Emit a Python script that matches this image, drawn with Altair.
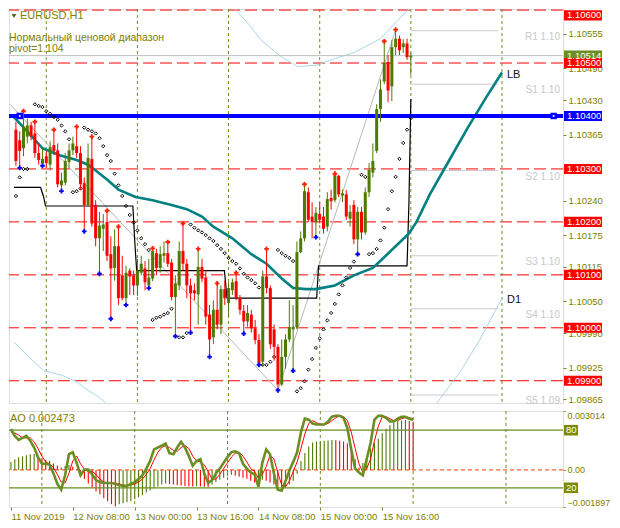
import altair as alt
import pandas as pd

# ---------------- chart data ----------------
N = 105
bar_idx = list(range(N))
opens = [
1.10374,1.10354,1.10339,1.10361,1.10382,1.10367,1.10330,1.10310,1.10324,1.10308,
1.10345,1.10335,1.10269,1.10274,1.10313,1.10335,1.10343,1.10330,1.10273,1.10232,
1.10319,1.10232,1.10169,1.10187,1.10200,1.10139,1.10113,1.10154,1.10099,1.10056,
1.10108,1.10099,1.10080,1.10104,1.10112,1.10080,1.10093,1.10141,1.10113,1.10136,
1.10141,1.10123,1.10058,1.10080,1.10145,1.10121,1.10080,1.10071,1.10063,1.10115,
1.10095,1.10025,1.09982,1.10034,1.10006,1.10073,1.10047,1.10071,1.10088,1.10056,
1.10032,1.10012,1.10025,1.09999,1.09977,1.09936,1.10097,1.10075,1.09997,1.09964,
1.09893,1.09945,1.09978,1.09997,1.10001,1.10143,1.10169,1.10256,1.10210,1.10199,
1.10215,1.10210,1.10191,1.10245,1.10241,1.10287,1.10250,1.10252,1.10206,1.10232,
1.10167,1.10219,1.10180,1.10256,1.10293,1.10334,1.10413,1.10465,1.10502,1.10456,
1.10530,1.10546,1.10530,1.10537,1.10511]
highs = [
1.10389,1.10371,1.10409,1.10395,1.10389,1.10389,1.10348,1.10339,1.10334,1.10352,
1.10374,1.10348,1.10293,1.10330,1.10348,1.10361,1.10380,1.10343,1.10284,1.10348,
1.10361,1.10241,1.10219,1.10215,1.10221,1.10173,1.10186,1.10191,1.10136,1.10117,
1.10112,1.10108,1.10130,1.10136,1.10126,1.10130,1.10150,1.10149,1.10154,1.10163,
1.10162,1.10130,1.10099,1.10163,1.10197,1.10130,1.10093,1.10084,1.10149,1.10130,
1.10108,1.10043,1.10052,1.10084,1.10080,1.10089,1.10086,1.10093,1.10104,1.10062,
1.10043,1.10043,1.10034,1.10015,1.09988,1.10108,1.10149,1.10080,1.10006,1.09969,
1.09978,1.09988,1.10052,1.10043,1.10163,1.10182,1.10271,1.10265,1.10237,1.10228,
1.10237,1.10228,1.10256,1.10261,1.10291,1.10289,1.10261,1.10260,1.10232,1.10241,
1.10228,1.10228,1.10265,1.10311,1.10348,1.10422,1.10469,1.10541,1.10515,1.10543,
1.10563,1.10552,1.10545,1.10546,1.10519]
lows = [
1.10306,1.10302,1.10324,1.10348,1.10354,1.10321,1.10308,1.10306,1.10302,1.10297,
1.10326,1.10265,1.10258,1.10269,1.10302,1.10326,1.10321,1.10260,1.10182,1.10228,
1.10191,1.10154,1.10102,1.10145,1.10126,1.10017,1.10089,1.10043,1.10052,1.10043,
1.10062,1.10062,1.10060,1.10099,1.10071,1.10075,1.10088,1.10099,1.10104,1.10123,
1.10115,1.10052,1.09984,1.10071,1.10108,1.10056,1.09991,1.10052,1.10006,1.10086,
1.10006,1.09945,1.09969,1.09997,1.09988,1.10043,1.10021,1.10062,1.10052,1.10025,
1.09989,1.10002,1.09991,1.09969,1.09930,1.09928,1.10065,1.09960,1.09938,1.09882,
1.09890,1.09923,1.09973,1.09919,1.09997,1.10141,1.10163,1.10200,1.10169,1.10171,
1.10197,1.10178,1.10182,1.10223,1.10237,1.10247,1.10237,1.10204,1.10191,1.10158,
1.10139,1.10167,1.10176,1.10247,1.10284,1.10330,1.10389,1.10460,1.10426,1.10428,
1.10515,1.10515,1.10519,1.10506,1.10478]
closes = [
1.10315,1.10334,1.10380,1.10382,1.10361,1.10330,1.10317,1.10319,1.10311,1.10341,
1.10334,1.10271,1.10278,1.10315,1.10335,1.10348,1.10330,1.10271,1.10232,1.10321,
1.10197,1.10169,1.10193,1.10195,1.10136,1.10112,1.10154,1.10056,1.10056,1.10104,
1.10097,1.10080,1.10108,1.10121,1.10086,1.10095,1.10145,1.10113,1.10139,1.10141,
1.10121,1.10058,1.10084,1.10145,1.10121,1.10080,1.10065,1.10065,1.10115,1.10093,
1.10021,1.09978,1.10034,1.10006,1.10073,1.10056,1.10075,1.10086,1.10056,1.10034,
1.10012,1.10028,1.09999,1.09977,1.09932,1.10097,1.10075,1.09969,1.09964,1.09893,
1.09945,1.09978,1.10001,1.10002,1.10143,1.10169,1.10258,1.10204,1.10200,1.10217,
1.10204,1.10187,1.10243,1.10239,1.10289,1.10252,1.10254,1.10210,1.10219,1.10167,
1.10219,1.10180,1.10256,1.10298,1.10315,1.10413,1.10450,1.10500,1.10448,1.10530,
1.10546,1.10524,1.10537,1.10511,1.10514]

# parabolic SAR (None = no dot)
sar = [
1.10249,1.10284,1.10300,1.10300,None,1.10422,1.10419,1.10417,1.10409,1.10404,
1.10398,1.10393,1.10382,1.10371,1.10356,1.10256,1.10258,1.10263,1.10378,1.10374,
1.10371,1.10367,1.10358,1.10343,1.10326,1.10315,1.10291,1.10269,1.10249,1.10230,
1.10213,1.10199,1.10184,1.10169,1.10158,1.10147,1.10015,1.10019,1.10021,1.10025,
1.10028,1.10036,None,1.09982,1.09982,1.09990,1.10195,1.10189,1.10184,1.10180,
1.10175,1.10169,1.10164,1.10156,1.10149,1.10141,1.10132,1.10126,1.10121,1.10112,
1.10102,1.10095,1.10090,1.10084,1.10076,1.09930,1.09930,1.09936,1.09945,1.10147,
1.10141,1.10136,1.10132,1.10126,1.09880,1.09886,1.09899,1.09921,1.09941,1.09962,
1.09980,1.09997,1.10014,1.10028,1.10045,1.10063,1.10080,1.10095,1.10113,1.10125,
None,1.10289,1.10285,1.10139,1.10141,1.10149,1.10165,1.10189,1.10224,1.10258,
1.10285,1.10319,1.10349,1.10374,1.10396]

fractal_up = [2,5,10,16,20,24,27,36,40,44,48,53,58,66,76,84,97,100]
fractal_dn = [1,7,12,18,22,25,29,35,42,46,51,60,64,69,73,79,90]

ma_idx = [-0.5,4,7,11.5,16,19,21,24,27,31.5,36,41,45,49,52,57,62,66,70,73,76.5,79,84,89,94,96.5,100,103.5,105.5,109,114,119,124,128]
ma_val = [1.10398,1.10363,1.10339,1.10326,1.10317,1.10308,1.10297,1.10280,1.10261,1.10247,1.10241,1.10232,1.10224,1.10210,1.10191,1.10169,1.10139,1.10121,1.10093,1.10075,1.10073,1.10073,1.10080,1.10099,1.10113,1.10130,1.10154,1.10178,1.10200,1.10252,1.10315,1.10378,1.10437,1.10482]

step_idx = [-0.5,6.5,7.3,7.8,30.8,31.3,31.8,54.9,55.6,79.2,79.7,103,103.5,104]
step_val = [1.10265,1.10265,1.10247,1.10230,1.10230,1.10163,1.10108,1.10108,1.10056,1.10056,1.10117,1.10117,1.10237,1.10432]

low_band_idx = [-0.5,4,7.3,12.3,15.8,19,21.5,26.6,60,100,110,116.8,121.8,128]
low_band_val = [1.09973,1.09941,1.09919,1.09910,1.09899,1.09882,1.09871,1.09840,1.09780,1.09790,1.09850,1.09915,1.09973,1.10056]
up_band_idx = [52,57.9,61.7,64.2,69.2,74.2,79.2,84.2,89.2,96,100.5,103.5,106]
up_band_val = [1.10640,1.10600,1.10570,1.10546,1.10515,1.10493,1.10496,1.10509,1.10520,1.10546,1.10580,1.10602,1.10630]

zz_idx = [-1.5, 69, 100]
zz_val = [1.10422, 1.09882, 1.10563]

round_levels = [1.10600, 1.10500, 1.10300, 1.10200, 1.10100, 1.10000, 1.09900]
blue_level = 1.10400
bid = 1.10514
pivot_names = ["R1 1.10", "S1 1.10", "S2 1.10", "S3 1.10", "S4 1.10", "S5 1.09"]
pivot_vals = [1.10561, 1.10460, 1.10297, 1.10136, 1.10036, 1.09873]
price_ticks = [1.10555, 1.10490, 1.10430, 1.10365, 1.10240, 1.10175, 1.10115, 1.10050, 1.09990, 1.09925, 1.09865]
box_prices = [1.10514, 1.10400, 1.10600, 1.10500, 1.10300, 1.10200, 1.10100, 1.10000, 1.09900]
box_texts = ["1.10514", "1.10400", "1.10600", "1.10500", "1.10300", "1.10200", "1.10100", "1.10000", "1.09900"]
box_fills = ["#6b8e23", "#0000ff", "#ff0000", "#ff0000", "#ff0000", "#ff0000", "#ff0000", "#ff0000", "#ff0000"]

day_lines = [8, 32, 56, 80, 104, 128]
tick_idx = [0, 16, 32, 48, 64, 80, 96]
time_labels = ["11 Nov 2019", "12 Nov 08:00", "13 Nov 00:00", "13 Nov 16:00", "14 Nov 08:00", "15 Nov 00:00", "15 Nov 16:00"]

ao = [0.00040,0.00055,0.00065,0.00070,0.00075,0.00080,0.00082,0.00070,0.00060,0.00052,
0.00045,0.00033,0.00023,0.00012,0.00020,0.00025,0.00017,0.00005,-0.00030,-0.00045,
-0.00070,-0.00090,-0.00110,-0.00125,-0.00145,-0.00160,-0.00175,-0.00187,-0.00175,-0.00170,
-0.00165,-0.00160,-0.00150,-0.00140,-0.00130,-0.00115,-0.00105,-0.00095,-0.00085,-0.00075,
-0.00070,-0.00072,-0.00075,-0.00078,-0.00080,-0.00082,-0.00084,-0.00085,-0.00083,-0.00084,
-0.00086,-0.00088,-0.00075,-0.00062,-0.00050,-0.00040,-0.00030,-0.00025,-0.00030,-0.00035,
-0.00040,-0.00045,-0.00055,-0.00065,-0.00060,-0.00050,-0.00055,-0.00065,-0.00075,-0.00085,
-0.00088,-0.00086,-0.00075,-0.00055,-0.00020,0.00045,0.00087,0.00120,0.00140,0.00145,
0.00147,0.00149,0.00151,0.00153,0.00152,0.00149,0.00145,0.00137,0.00105,0.00055,
0.00012,0.00035,0.00070,0.00110,0.00137,0.00160,0.00187,0.00210,0.00228,0.00240,
0.00250,0.00253,0.00255,0.00250,0.002473]
stoch_k = [81,74,70,72,74,69,62,52,45,45,
44,35,24,18,33,55,57,46,33,39,
39,34,28,26,25,25,25,24,23,22,
22,24,26,29,33,40,48,60,62,64,
66,56,55,62,68,62,53,43,48,50,
35,25,28,35,40,46,52,57,58,56,
45,40,36,34,21,46,60,55,35,18,
17,27,38,47,57,78,92,91,87,86,
86,86,89,94,95,95,93,82,60,40,
36,33,50,67,91,95,95,93,89,89,
92,94,94,92,91]
stoch_d = [78,77,75,72,72,72,68,61,53,47,
45,41,34,26,25,35,48,53,45,39,
37,37,34,29,26,25,25,25,24,23,
22,23,24,26,29,34,40,49,57,62,
64,62,59,58,62,64,61,53,48,47,
44,37,29,29,34,40,46,52,56,57,
53,47,40,37,30,34,42,54,50,36,
23,21,27,37,47,61,76,87,90,88,
86,86,87,90,93,95,94,90,78,61,
45,36,40,50,69,84,94,94,92,90,
90,92,93,93,92]
stoch_levels = [80, 20]
ao_ticks = [0.003014, 0.0, -0.001897]

# ---------------- styling ----------------
W, H1, H2 = 554, 394, 96
GREEN = "#4e7a00"
RED = "#ff0000"
OLIVE = "#6b8e23"
TXT = "#808000"
FONT = "Liberation Sans"

xs = alt.Scale(domain=[-0.5, 142.75], nice=False, zero=False)
ys = alt.Scale(domain=[1.09858, 1.10602], nice=False, zero=False)

def X(f="i"):
    return alt.X(f"{f}:Q", scale=xs, axis=None)

def Y(f):
    return alt.Y(f"{f}:Q", scale=ys, axis=None)

candles = pd.DataFrame({"i": bar_idx, "o": opens, "h": highs, "l": lows, "c": closes})
candles["dir"] = ["up" if c > o else "dn" for o, c in zip(opens, closes)]
ccol = alt.Color("dir:N", scale=alt.Scale(domain=["up", "dn"], range=[GREEN, RED]), legend=None)

# ---------------- main panel ----------------
yaxis = alt.Axis(orient="right", values=price_ticks, format=".5f", title=None, grid=False,
                 labelColor=TXT, labelFont=FONT, labelFontSize=9.5, tickColor=OLIVE,
                 tickSize=3, domain=False, labelPadding=2)

levels = alt.Chart(pd.DataFrame({"p": round_levels})).mark_rule(
    color=RED, strokeDash=[12, 5], strokeWidth=1, clip=True
).encode(y=alt.Y("p:Q", scale=ys, axis=yaxis))

vgrid = alt.Chart(pd.DataFrame({"i": day_lines})).mark_rule(
    color=OLIVE, strokeDash=[3, 3], strokeWidth=1, clip=True
).encode(x=X())

bands = pd.concat([
    pd.DataFrame({"i": low_band_idx, "p": low_band_val, "b": "low"}),
    pd.DataFrame({"i": up_band_idx, "p": up_band_val, "b": "up"}),
])
band_lines = alt.Chart(bands).mark_line(color="#a8d8e8", strokeWidth=1, clip=True).encode(
    x=X(), y=Y("p"), detail="b:N")

zigzag = alt.Chart(pd.DataFrame({"i": zz_idx, "p": zz_val})).mark_line(
    color="#b8b8b8", strokeWidth=1, clip=True).encode(x=X(), y=Y("p"))

bid_line = alt.Chart(pd.DataFrame({"p": [bid]})).mark_rule(
    color="#c0c0c0", strokeWidth=1, clip=True).encode(y=Y("p"))

piv = pd.DataFrame({"p": pivot_vals, "name": pivot_names, "i0": 104, "i1": 127})
piv_lines = alt.Chart(piv).mark_rule(color="#cccccc", strokeWidth=1, clip=True).encode(
    x=X("i0"), x2="i1:Q", y=Y("p"))
piv_text = alt.Chart(piv).mark_text(align="right", baseline="middle", dy=6, color="#c8c8c8",
                                    font=FONT, fontSize=10).encode(
    x=alt.value(W - 3), y=Y("p"), text="name:N")

ma_line = alt.Chart(pd.DataFrame({"i": ma_idx, "p": ma_val})).mark_line(
    color="#008080", strokeWidth=2.6, clip=True).encode(x=X(), y=Y("p"))

step_line = alt.Chart(pd.DataFrame({"i": step_idx, "p": step_val})).mark_line(
    color="black", strokeWidth=1.2, clip=True).encode(x=X(), y=Y("p"))

blue_line = alt.Chart(pd.DataFrame({"p": [blue_level]})).mark_rule(
    color="#0000ff", strokeWidth=4, clip=True).encode(y=Y("p"))
ends = pd.DataFrame({"i": [1.0, 141.6], "p": [blue_level, blue_level]})
blue_sq = alt.Chart(ends).mark_square(color="#0000ff", size=42, opacity=1, strokeWidth=0).encode(
    x=X(), y=Y("p"))
blue_dot = alt.Chart(ends).mark_square(color="white", size=3, opacity=1, strokeWidth=0).encode(
    x=X(), y=Y("p"))

sar_df = pd.DataFrame({"i": bar_idx, "s": sar}).dropna()
sar_pts = alt.Chart(sar_df).mark_point(shape="diamond", filled=False, size=11, strokeWidth=1,
                                        color="black", opacity=1).encode(x=X(), y=Y("s"))

wicks = alt.Chart(candles).mark_rule(strokeWidth=1).encode(x=X(), y=Y("l"), y2="h:Q", color=ccol)
bodies = alt.Chart(candles).mark_bar(size=3).encode(x=X(), y=Y("o"), y2="c:Q", color=ccol)

fu = candles[candles["i"].isin(fractal_up)]
fd = candles[candles["i"].isin(fractal_dn)]
frac_up = alt.Chart(fu).mark_point(shape="cross", filled=True, size=22, color="#ff2000",
                                   opacity=1).encode(x=X(), y=Y("h"))
frac_dn = alt.Chart(fd).mark_point(shape="cross", filled=True, size=22, color="#0000ff",
                                   opacity=1).encode(x=X(), y=Y("l"))

end_labels = pd.DataFrame({"i": [128, 128], "p": [ma_val[-1], low_band_val[-1]], "t": ["LB", "D1"]})
end_text = alt.Chart(end_labels).mark_text(align="left", baseline="middle", dx=5, dy=2,
                                           color="#101020", font=FONT, fontSize=11).encode(
    x=X(), y=Y("p"), text="t:N")

title_tri = alt.Chart(pd.DataFrame({"a": [1]})).mark_point(
    shape="triangle-down", filled=True, size=24, color="#4b6e1e", opacity=1, strokeWidth=0
).encode(x=alt.value(5), y=alt.value(7))
title_txt = alt.Chart(pd.DataFrame({"t": ["EURUSD,H1"]})).mark_text(
    align="left", baseline="middle", color=TXT, font=FONT, fontSize=11
).encode(x=alt.value(11), y=alt.value(7), text="t:N")
info_txt = alt.Chart(pd.DataFrame({"t": ["Нормальный ценовой диапазон", " pivot=1.104"],
                                   "yy": [29, 40]})).mark_text(
    align="left", baseline="middle", color=TXT, font=FONT, fontSize=10.5
).encode(x=alt.value(0), y=alt.Y("yy:Q", scale=None, axis=None), text="t:N")

boxes = pd.DataFrame({"p": box_prices, "txt": box_texts, "fill": box_fills})
box_rect = alt.Chart(boxes).transform_calculate(
    pc="min(datum.p, 1.1059)"
).transform_calculate(
    lo="datum.pc - 0.000095", hi="min(datum.pc + 0.000095, 1.10602)"
).mark_rect().encode(
    x=alt.value(W + 1), x2=alt.value(W + 39),
    y=Y("lo"), y2="hi:Q", color=alt.Color("fill:N", scale=None))
box_text = alt.Chart(boxes).transform_calculate(
    pc="min(datum.p, 1.1059)"
).mark_text(align="left", baseline="middle", color="white", font=FONT, fontSize=9.5).encode(
    x=alt.value(W + 4), y=Y("pc"), text="txt:N")

main = alt.layer(
    levels, vgrid, band_lines, zigzag, bid_line, piv_lines, piv_text, step_line, ma_line,
    blue_line, sar_pts, wicks, bodies, frac_up, frac_dn, blue_sq, blue_dot,
    end_text, title_tri, title_txt, info_txt, box_rect, box_text
).resolve_axis(x="independent", y="independent").properties(width=W, height=H1)

# ---------------- indicator panel ----------------
ind = pd.DataFrame({"i": bar_idx, "ao": ao, "k": stoch_k, "d": stoch_d})
ind["zero"] = 0.0
ind["adir"] = ["up" if (j == 0 or ao[j] > ao[j - 1]) else "dn" for j in range(N)]
ao_scale = alt.Scale(domain=[-0.001897, 0.003014], nice=False, zero=False)
st_scale = alt.Scale(domain=[0, 100], nice=False, zero=False)

lab_expr = "[" + ",".join("'" + t + "'" for t in time_labels) + "][round(datum.value/16)]"
xaxis = alt.Axis(values=tick_idx, labelExpr=lab_expr, labelAlign="left", labelColor=TXT,
                 labelFont=FONT, labelFontSize=9.5, tickColor=OLIVE, tickSize=3, domain=False,
                 grid=False, title=None, labelPadding=1, labelFlush=False, labelOverlap=False)
ao_axis = alt.Axis(orient="right", values=ao_ticks, title=None, grid=False,
                   labelExpr="datum.value == 0 ? '0.00' : format(datum.value, '.6f')",
                   labelColor=TXT, labelFont=FONT, labelFontSize=9, tickColor=OLIVE, tickSize=2,
                   domain=False, labelPadding=2, labelFlush=True)

ao_bars = alt.Chart(ind).mark_rule(strokeWidth=1.1).encode(
    x=alt.X("i:Q", scale=xs, axis=xaxis),
    y=alt.Y("ao:Q", scale=ao_scale, axis=ao_axis), y2="zero:Q",
    color=alt.Color("adir:N", scale=alt.Scale(domain=["up", "dn"], range=["#5a7d14", RED]), legend=None))
zero_line = alt.Chart(pd.DataFrame({"v": [0.0]})).mark_rule(
    color="#ff3c00", strokeDash=[4, 3], strokeWidth=1, clip=True).encode(
    y=alt.Y("v:Q", scale=ao_scale, axis=None))
vgrid2 = alt.Chart(pd.DataFrame({"i": day_lines})).mark_rule(
    color=OLIVE, strokeDash=[3, 3], strokeWidth=1, clip=True).encode(x=alt.X("i:Q", scale=xs, axis=None))
st_lines = alt.Chart(pd.DataFrame({"v": stoch_levels})).mark_rule(
    color=OLIVE, strokeWidth=1.3, clip=True).encode(y=alt.Y("v:Q", scale=st_scale, axis=None))
k_line = alt.Chart(ind).mark_line(color=OLIVE, strokeWidth=2.6, clip=True).encode(
    x=alt.X("i:Q", scale=xs, axis=None), y=alt.Y("k:Q", scale=st_scale, axis=None))
d_line = alt.Chart(ind).mark_line(color=RED, strokeWidth=1, clip=True).encode(
    x=alt.X("i:Q", scale=xs, axis=None), y=alt.Y("d:Q", scale=st_scale, axis=None))
st_box_df = pd.DataFrame({"v": stoch_levels, "t": ["80", "20"]})
st_box = alt.Chart(st_box_df).transform_calculate(lo="datum.v - 5.5", hi="datum.v + 5.5").mark_rect(
    color="#7b8a00").encode(x=alt.value(W + 1), x2=alt.value(W + 15),
                            y=alt.Y("lo:Q", scale=st_scale, axis=None), y2="hi:Q")
st_box_t = alt.Chart(st_box_df).mark_text(align="left", baseline="middle", color="white",
                                          font=FONT, fontSize=9.5).encode(
    x=alt.value(W + 3), y=alt.Y("v:Q", scale=st_scale, axis=None), text="t:N")
ao_title = alt.Chart(pd.DataFrame({"t": ["AO 0.002473"]})).mark_text(
    align="left", baseline="middle", color=TXT, font=FONT, fontSize=11).encode(
    x=alt.value(1), y=alt.value(8), text="t:N")

indic = alt.layer(
    ao_bars, zero_line, vgrid2, st_lines, d_line, k_line, st_box, st_box_t, ao_title
).resolve_scale(y="independent").resolve_axis(x="independent", y="independent").properties(
    width=W, height=H2)

chart = alt.vconcat(main, indic, spacing=3).properties(
    padding={"left": 0, "top": 0, "right": 0, "bottom": 0}
).configure_view(
    stroke=OLIVE, strokeWidth=1, fill="white"
).configure(background="white")

chart.save("out.html", embed_options={"renderer": "svg", "actions": False})
